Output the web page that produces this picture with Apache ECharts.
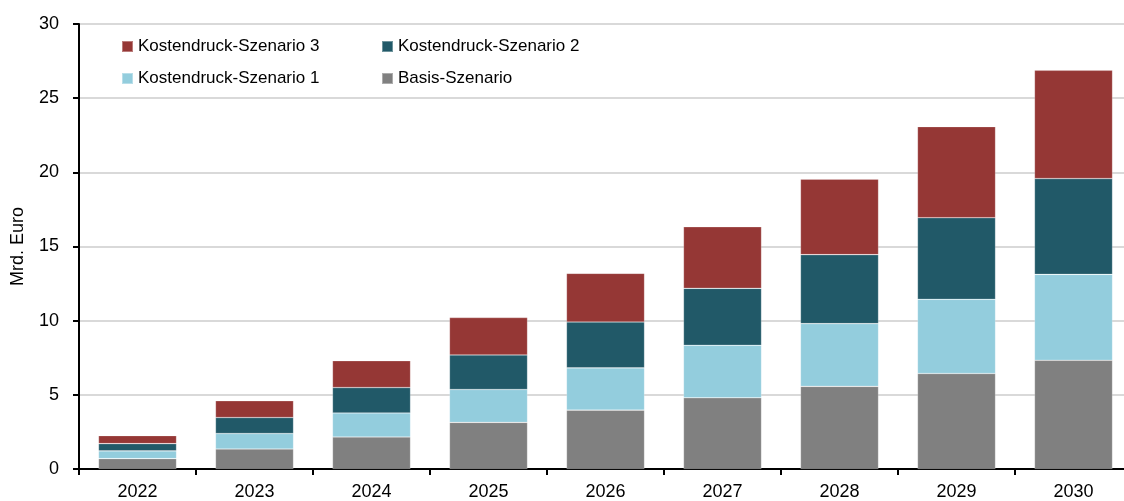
<!DOCTYPE html>
<html>
<head>
<meta charset="utf-8">
<script src="https://cdn.jsdelivr.net/npm/echarts@6/dist/echarts.min.js"></script>
<style>
  html, body { margin: 0; padding: 0; background: #fff; }
  #chart { width: 1124px; height: 501px; }
</style>
</head>
<body>
<div id="chart"></div>
<script>
const years = ['2022', '2023', '2024', '2025', '2026', '2027', '2028', '2029', '2030'];
const basis = [0.70, 1.35, 2.16, 3.14, 3.97, 4.80, 5.57, 6.44, 7.33];
const szenario1 = [0.52, 1.04, 1.62, 2.22, 2.85, 3.54, 4.23, 5.00, 5.79];
const szenario2 = [0.49, 1.08, 1.71, 2.33, 3.09, 3.84, 4.65, 5.50, 6.46];
const szenario3 = [0.54, 1.13, 1.81, 2.52, 3.28, 4.15, 5.09, 6.14, 7.30];
const yTicks = [0, 5, 10, 15, 20, 25, 30];

const FONT = '"Liberation Sans", Arial, sans-serif';
const colors = {
  basis: '#808080',
  s1: '#93cddd',
  s2: '#215968',
  s3: '#953735',
};

const chart = echarts.init(document.getElementById('chart'));

const legendText = { color: '#000', fontSize: 17, fontFamily: FONT };
const mkLegend = (name, left, top) => ({
  data: [name],
  left, top,
  itemWidth: 11, itemHeight: 11,
  icon: 'rect',
  itemGap: 0,
  textStyle: legendText,
  padding: 0,
  selectedMode: false,
});

const bar = (name, data, color) => ({
  name,
  type: 'bar',
  stack: 'total',
  data,
  barCategoryGap: '33.3%',
  itemStyle: { color, borderColor: 'rgba(255,255,255,0.35)', borderWidth: 0.6 },
  emphasis: { disabled: true },
});

chart.setOption({
  backgroundColor: '#fff',
  animation: false,
  // plot runs past the right edge, as in the source image
  grid: { left: 79, top: 24, width: 1053, height: 445, outerBoundsMode: 'none', containLabel: false },
  legend: [
    mkLegend('Kostendruck-Szenario 3', 121, 38),
    mkLegend('Kostendruck-Szenario 2', 381, 38),
    mkLegend('Kostendruck-Szenario 1', 121, 70),
    mkLegend('Basis-Szenario', 381, 70),
  ],
  xAxis: {
    type: 'category',
    data: years,
    axisLine: { lineStyle: { color: '#000', width: 2 } },
    axisTick: { show: true, length: 6, lineStyle: { color: '#000', width: 2 } },
    axisLabel: { color: '#000', fontSize: 18, fontFamily: FONT, margin: 14 },
  },
  yAxis: {
    type: 'value',
    min: yTicks[0],
    max: yTicks[yTicks.length - 1],
    interval: 5,
    name: 'Mrd. Euro',
    nameLocation: 'middle',
    nameGap: 52,
    nameTextStyle: { color: '#000', fontSize: 18, fontFamily: FONT },
    axisLine: { show: true, lineStyle: { color: '#000', width: 2 } },
    axisTick: { show: true, length: 6, lineStyle: { color: '#000', width: 2 } },
    axisLabel: { color: '#000', fontSize: 18, fontFamily: FONT, margin: 20 },
    splitLine: { lineStyle: { color: '#d9d9d9', width: 2 } },
  },
  series: [
    bar('Basis-Szenario', basis, colors.basis),
    bar('Kostendruck-Szenario 1', szenario1, colors.s1),
    bar('Kostendruck-Szenario 2', szenario2, colors.s2),
    bar('Kostendruck-Szenario 3', szenario3, colors.s3),
  ],
});
</script>
</body>
</html>
